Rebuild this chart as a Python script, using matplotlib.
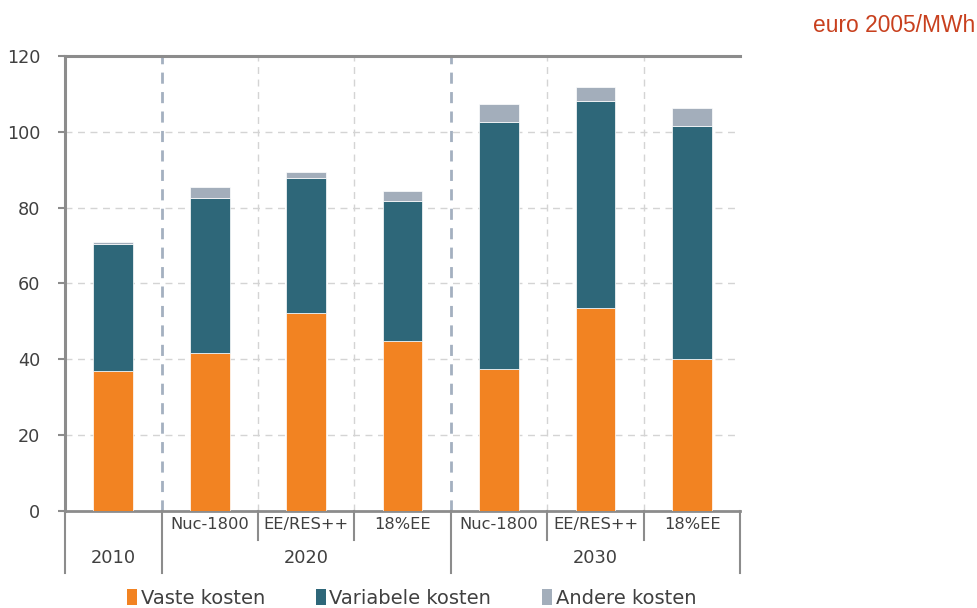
import matplotlib
matplotlib.use("Agg")
import matplotlib.pyplot as plt
from matplotlib import font_manager
from matplotlib.patches import Patch
from matplotlib.transforms import blended_transform_factory
import numpy as np

# Cost components per scenario (euro 2005/MWh)
years = ["2010", "2020", "2030"]
scenarios = ["", "Nuc-1800", "EE/RES++", "18%EE", "Nuc-1800", "EE/RES++", "18%EE"]
vaste = [36.8, 41.5, 52.2, 44.7, 37.3, 53.6, 40.1]
variabele = [33.7, 41.0, 35.5, 36.9, 65.4, 54.6, 61.5]
andere = [0.5, 2.9, 1.8, 2.8, 4.6, 3.7, 4.7]
series_names = ["Vaste kosten", "Variabele kosten", "Andere kosten"]
y_ticks = [0, 20, 40, 60, 80, 100, 120]

c_vaste = "#F28322"
c_var = "#2E6779"
c_andere = "#A3AEBB"
txt = "#404040"
frame = "#8C8C8C"

# regular-width Arial-like face for the unit label
unit_font = font_manager.FontProperties(family="Liberation Sans", size=16.4)
for path in font_manager.findSystemFonts():
    if path.endswith("LiberationSans-Regular.ttf"):
        unit_font = font_manager.FontProperties(fname=path, size=16.4)
        break

fig = plt.figure(figsize=(9.78, 6.08), dpi=100)
ax = fig.add_axes([0.0665, 0.160, 0.6905, 0.748])

x = np.arange(len(scenarios))
w = 0.41
ax.bar(x, vaste, w, color=c_vaste, edgecolor="white", linewidth=0.5, zorder=3)
ax.bar(x, variabele, w, bottom=vaste, color=c_var, edgecolor="white", linewidth=0.5, zorder=3)
bottom3 = np.array(vaste) + np.array(variabele)
ax.bar(x, andere, w, bottom=bottom3, color=c_andere, edgecolor="white", linewidth=0.5, zorder=3)

ax.set_xlim(-0.5, 6.5)
ax.set_ylim(0, 120)
ax.set_yticks(y_ticks)
ax.set_yticklabels([str(v) for v in y_ticks], fontsize=12.7, color=txt)
ax.set_xticks([])
ax.tick_params(axis="y", length=5, width=1.5, color=frame, pad=13)

# horizontal grid
for v in y_ticks[1:-1]:
    ax.axhline(v, color="#D4D4D4", lw=1.0, ls=(0, (5, 4)), zorder=1)
# light vertical separators between scenarios
for xv in [1.5, 2.5, 4.5, 5.5]:
    ax.axvline(xv, color="#D4D4D4", lw=1.0, ls=(0, (5, 4)), zorder=1)
# stronger separators between years
for xv in [0.5, 3.5]:
    ax.axvline(xv, color="#A4B0C0", lw=2.0, ls=(0, (4, 3)), zorder=2)

ax.spines["right"].set_visible(False)
for s, lw in [("top", 2.2), ("left", 2.2), ("bottom", 2.0)]:
    ax.spines[s].set_color(frame)
    ax.spines[s].set_linewidth(lw)

# two-level category axis below the plot
tr = blended_transform_factory(ax.transData, ax.transAxes)
row1 = -0.065
row2 = -0.1375
for xi, lab in zip(x, scenarios):
    if lab:
        ax.text(xi, -0.031, lab, transform=tr, ha="center", va="center",
                fontsize=11.7, color=txt, clip_on=False)
for xv in [1.5, 2.5, 4.5, 5.5]:
    ax.plot([xv, xv], [0, row1], transform=tr, color=frame, lw=1.5, clip_on=False)
for xv in [-0.5, 0.5, 3.5, 6.5]:
    ax.plot([xv, xv], [0, row2], transform=tr, color=frame, lw=1.5, clip_on=False)
year_pos = [0.0, 2.0, 5.0]
for xp, yl in zip(year_pos, years):
    ax.text(xp, -0.103, yl, transform=tr, ha="center", va="center",
            fontsize=12.8, color=txt, clip_on=False)

handles = [Patch(facecolor=c_vaste), Patch(facecolor=c_var), Patch(facecolor=c_andere)]
fig.legend(handles, series_names, loc="center", bbox_to_anchor=(0.421, 0.016),
           ncol=3, frameon=False, fontsize=14, labelcolor=txt,
           handlelength=0.5, handleheight=0.9, handletextpad=0.2, columnspacing=2.6)

fig.text(0.997, 0.958, "euro 2005/MWh", ha="right", va="center",
         fontproperties=unit_font, color="#C8401E")

fig.savefig("out.png", dpi=100)
